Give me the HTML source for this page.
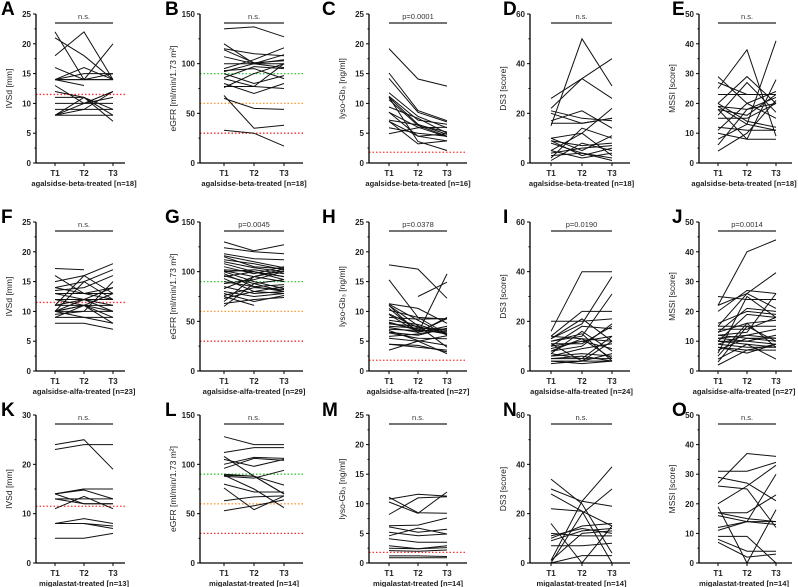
<!DOCTYPE html>
<html><head><meta charset="utf-8"><style>
body{margin:0;background:#fff}
svg{display:block;font-family:"Liberation Sans",sans-serif}
</style></head><body>
<svg id="fig" width="798" height="587" viewBox="0 0 798 587" xmlns="http://www.w3.org/2000/svg"></svg>
<script>
const timeLabels=["T1","T2","T3"];
const dataA=[[22,14,14],[21,18,14],[18,22,14],[16,14,20],[14,16,14],[14,14,15],[14,15,15],[14,13,null],[13,10,12],[12,11,8],[11,11,7],[10,10,11],[9,9,12],[8,11,9],[8,10,10],[8,8,8],[8,9,9],[14,14,14]];
const dataB=[[135,137,127],[120,100,96],[115,110,108],[114,101,103],[107,100,104],[100,100,100],[95,104,116],[93,95,85],[92,100,109],[90,80,88],[85,77,100],[80,70,80],[77,77,75],[76,90,100],[68,35,38],[65,55,54],[33,30,17],[86,97,95]];
const dataC=[[19.2,14.1,12.9],[15.1,8.8,7.1],[14.2,8.5,6.9],[11.8,7.8,5.9],[11.2,7.2,6.5],[11,6.5,4.8],[10.6,6.3,4.5],[9.4,7.5,5.0],[8.5,6.0,4.4],[7.2,6.4,5.2],[7,4.5,3.7],[5.9,5,4.5],[4.9,5.9,6.0],[11,3.6,2.1],[7,3.2,3.7],[8.5,4.5,4.9]];
const dataD=[[26,34,42],[15,50,31],[22,34,26],[21,18,17],[20,16,18],[17,21,14],[16,16,18],[10,12,22],[10,5,11],[9,3,6],[9,7,8],[5,12,3],[5,2,4],[4,6,7],[3,4,2],[2,14,10],[1,8,5],[8,4,1]];
const dataE=[[29,20,24],[27,23,23],[25,38,9],[20,29,20],[19,13,11],[19,18,20],[18,8,28],[16,27,17],[15,15,20],[12,11,11],[11,20,15],[10,8,8],[8,13,41],[6,18,22],[4,10,21],[20,14,12],[18,16,23],[23,23,23]];
const dataF=[[17.2,17,null],[16,13,14],[15,16,18],[14,15,17],[14,13,12],[13.5,14,16],[13,12,14],[12,12,12],[11,11,11],[11,16,13],[10,15,12],[10,11,10],[10,10,15],[10,9,8],[10,11,9],[9.5,10,10],[9,9,9],[8,8,7],[12,11,13],[11,12,11],[9,11,8],[13,13,13],[10,12,10]];
const dataG=[[130,121,127],[124,120,118],[118,113,112],[116,110,104],[115,105,103],[112,108,102],[110,104,100],[108,100,95],[105,98,105],[102,100,92],[101,95,90],[100,102,98],[100,90,83],[98,85,80],[96,88,92],[95,100,95],[93,80,78],[90,85,87],[88,92,100],[85,78,80],[83,95,101],[80,75,78],[78,70,76],[76,84,82],[75,66,null],[73,80,85],[70,95,103],[68,72,74],[65,88,80]];
const dataH=[[17.8,17.1,12.2],[15.3,9,6.2],[11.3,10.5,8],[11.2,8.5,6],[11,6.4,16.3],[null,12.5,14.9],[10.5,6.5,7.5],[10.2,9,8.7],[9.6,7.3,6.8],[9,8.7,8.8],[8.5,7.8,6.2],[8.2,6.8,6.6],[8,7,6.2],[7.5,7.2,7.0],[7.3,6.5,9],[7,6.8,6.5],[6.8,5.1,4.3],[6.5,6,7.2],[5.8,6.2,7.1],[5.5,5,5.9],[4.5,4.3,3.2],[3.5,5,2.9],[11,7.6,4],[9.5,6.5,8.8],[7.9,7.5,6.1],[6.4,5.5,5.4],[4.5,4.0,3.5]];
const dataI=[[16,40,40],[20,20,21],[14,24,24],[13,19,38],[13,21,12],[12,14,31],[12,15,4],[11,11,18],[11,4,12],[10,18,17],[9,12,14],[8,10,19],[8,13,5],[7,5,14],[7,16,8],[6,7,6],[6,9,11],[5,6,4],[5,5,5],[4,4,7],[4,3,4],[3,4,4],[14,13,12],[10,12,9]];
const dataJ=[[25,24,24],[22,40,44],[22,26,21],[20,27,26],[16,20,19],[15,26,33],[15,15,15],[14,14,18],[13,21,20],[13,16,17],[12,13,26],[12,11,10],[11,12,11],[11,10,12],[10,10,9],[10,19,18],[10,9,8],[9,12,14],[9,8,8],[8,7,7],[8,6,9],[7,11,11],[6,25,18],[5,16,8],[4,9,4],[3,15,10],[2,7,9]];
const dataK=[[24,25,19],[23,24,24],[14,15,15],[14,14.8,13],[14,12,12],[13,13,13],[11,13.5,11],[8,9,8],[8,8,7.5],[8,8,7],[5,5,6],[14,15,15],[13,12,12]];
const dataL=[[128,120,120],[112,117,117],[108,88,70],[105,98,105],[100,107,106],[96,106,104],[89,88,79],[89,75,56],[88,86,94],[80,72,72],[76,54,68],[63,67,68],[53,58,64],[90,88,70]];
const dataM=[[11.1,8.5,8.4],[10.8,11.6,11.3],[10.3,8.4,12],[8.2,11,11.2],[6.3,6.4,7.6],[6.1,5.2,5.7],[5.2,4.6,4.9],[4.6,5.9,4.9],[4.1,3.5,3.5],[2.9,2.4,2.6],[2.5,2.4,2.9],[2.1,2.0,2.2],[1.2,1.2,1.1],[0.9,0.9,0.9]];
const dataN=[[34,24,4],[30,25,23],[28,21,15],[22,21,0],[16,0,15],[12,11,11],[11,14,12],[10,15,16],[9,13,14],[7,7,8],[1,25,39],[0,20,30],[0,3,3],[1,12,13]];
const dataO=[[31,31,34],[29,27,21],[27,37,36],[26,25,12],[20,26,33],[17,17,23],[16,14,14],[12,14,13],[11,14,30],[9,9,0],[8,4,4],[7,2,3],[19,0,18],[17,15,14]];
const letters=["A","B","C","D","E","F","G","H","I","J","K","L","M","N","O"];
const sigLabels=["n.s.","n.s.","p=0.0001","n.s.","n.s.","n.s.","p=0.0045","p=0.0378","p=0.0190","p=0.0014","n.s.","n.s.","n.s.","n.s.","n.s."];
const groupLabels=["agalsidse-beta-treated [n=18]","agalsidse-beta-treated [n=18]","agalsidse-beta-treated [n=16]","agalsidse-beta-treated [n=18]","agalsidse-beta-treated [n=18]","agalsidse-alfa-treated [n=23]","agalsidse-alfa-treated [n=29]","agalsidse-alfa-treated [n=27]","agalsidse-alfa-treated [n=24]","agalsidse-alfa-treated [n=27]","migalastat-treated [n=13]","migalastat-treated [n=14]","migalastat-treated [n=14]","migalastat-treated [n=14]","migalastat-treated [n=14]"];
const yMax=[25,150,25,60,50,25,150,25,60,50,30,150,25,60,50];
const yStep=[5,50,5,20,10,5,50,5,20,10,10,50,5,20,10];
const yTitles=["IVSd [mm]","eGFR [ml/min/1.73 m²]","lyso-Gb₃ [ng/ml]","DS3 [score]","MSSI [score]"];
const allData=[dataA,dataB,dataC,dataD,dataE,dataF,dataG,dataH,dataI,dataJ,dataK,dataL,dataM,dataN,dataO];

const cols=[{ax:36,t:[55,84,113],end:125,lx:1},{ax:200,t:[224,254,284],end:303,lx:165},{ax:369,t:[389,418,447],end:467,lx:322},{ax:530,t:[551,582,612],end:630,lx:503},{ax:699,t:[718,747,776],end:792,lx:672}];
const rows=[{top:14,bot:163},{top:222,bot:371},{top:415,bot:563}];
const NS="http://www.w3.org/2000/svg";
const svg=document.getElementById('fig');
function mk(tag,attrs,parent,text){const e=document.createElementNS(NS,tag);for(const k in attrs)e.setAttribute(k,attrs[k]);if(text!==undefined)e.textContent=text;parent.appendChild(e);return e;}

for(let p=0;p<15;p++){
  const c=cols[p%5],r=rows[Math.floor(p/5)];
  const g=mk('g',{},svg);
  
  
  const ys=v=>r.bot-(v/yMax[p])*(r.bot-r.top);
  const col=p%5;
  const lt=mk('text',{x:c.lx,y:r.top+1,'font-size':19,'font-weight':'bold'},g,letters[p]);
  
  
  let refs=[];
  if(col===0)refs=[[11.5,'#f33']];
  if(col===1)refs=[[90,'#3c3'],[60,'#f93'],[30,'#e33']];
  if(col===2)refs=[[1.8,'#f33']];
  refs.forEach(rf=>{const l=mk('line',{x1:c.ax,x2:c.end,y1:ys(rf[0]),y2:ys(rf[0]),stroke:rf[1],'stroke-width':1.3,'stroke-dasharray':'1.5 2'},g);
    
    });
  allData[p].forEach(s=>{
    let pts=[];
    s.forEach((v,i)=>{if(v!==null)pts.push(c.t[i]+','+ys(v).toFixed(1));});
    const pl=mk('polyline',{points:pts.join(' '),fill:'none',stroke:'#111','stroke-width':1},g);
    
    
  });
  const ya=mk('line',{x1:c.ax,x2:c.ax,y1:r.top,y2:r.bot,stroke:'#000','stroke-width':1.3},g);
  
  
  const xa=mk('line',{x1:c.ax,x2:c.end,y1:r.bot,y2:r.bot,stroke:'#000','stroke-width':1.3},g);
  
  
  for(let v=0;v<=yMax[p];v+=yStep[p]){
    mk('line',{x1:c.ax-3,x2:c.ax,y1:ys(v),y2:ys(v),stroke:'#000','stroke-width':1},g);
    const h=v+yStep[p]/2; if(h<yMax[p]) mk('line',{x1:c.ax-1.5,x2:c.ax,y1:ys(h),y2:ys(h),stroke:'#000','stroke-width':1},g);
    const tl=mk('text',{x:c.ax-5,y:ys(v)+3,'font-size':8,'text-anchor':'end','font-weight':'bold',fill:'#222'},g,String(v));
    
    
  }
  timeLabels.forEach((t,i)=>{
    mk('line',{x1:c.t[i],x2:c.t[i],y1:r.bot,y2:r.bot+3,stroke:'#000','stroke-width':1},g);
    const xl=mk('text',{x:c.t[i],y:r.bot+13,'font-size':8,'text-anchor':'middle','font-weight':'bold',fill:'#222'},g,t);
    
    
  });
  const xcx=col===4?744:(c.t[0]+c.t[2])/2;
  const xt=mk('text',{x:xcx,y:r.bot+23,'font-size':7.6,'text-anchor':'middle','font-weight':'bold',fill:'#222'},g,groupLabels[p]);
  
  
  const cy=(r.top+r.bot)/2, tx=c.ax-24;
  const yt=mk('text',{x:tx,y:cy,'font-size':8.5,'text-anchor':'middle',fill:'#222',transform:`rotate(-90 ${tx} ${cy})`},g,yTitles[col]);
  
  
  const sb=mk('line',{x1:c.t[0],x2:c.t[2],y1:r.top+9,y2:r.top+9,stroke:'#222','stroke-width':1.3},g);
  
  
  const sl=mk('text',{x:(c.t[0]+c.t[2])/2,y:r.top+5,'font-size':7.5,'text-anchor':'middle',fill:'#333'},g,sigLabels[p]);
  
  
}
</script>
</body></html>
